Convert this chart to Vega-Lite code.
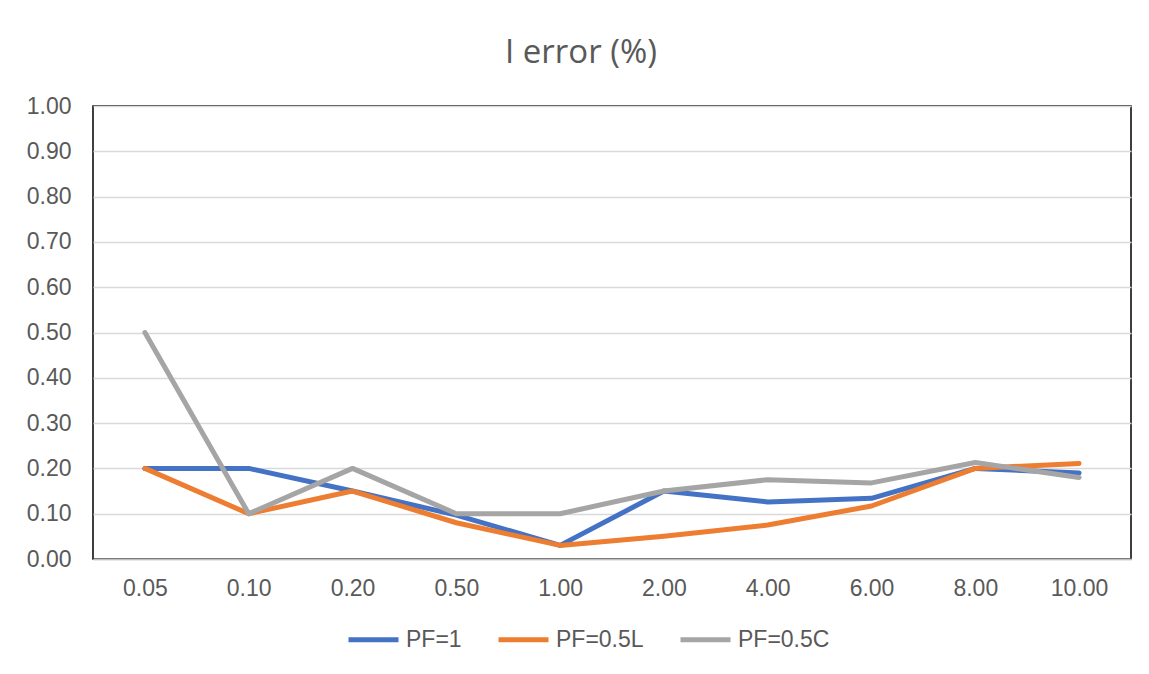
{
  "$schema": "https://vega.github.io/schema/vega-lite/v6.json",
  "width": 1038,
  "height": 453,
  "autosize": {"type": "none"},
  "padding": {"left": 93, "top": 106, "right": 18, "bottom": 115},
  "background": "white",
  "title": {
    "text": "I error (%)",
    "font": "Open Sans",
    "fontSize": 33,
    "fontWeight": "normal",
    "color": "#595959",
    "anchor": "middle",
    "frame": "group",
    "dx": -31,
    "offset": 25
  },
  "config": {
    "view": {"stroke": "#000000", "strokeWidth": 1.5},
    "axis": {
      "labelFont": "Liberation Sans",
      "labelFontSize": 23,
      "labelColor": "#595959",
      "ticks": false,
      "title": null
    },
    "legend": {
      "labelFont": "Liberation Sans",
      "labelFontSize": 23,
      "labelColor": "#595959"
    }
  },
  "data": {
    "values": [
      {"x": "0.05", "series": "PF=1", "v": 0.20},
      {"x": "0.10", "series": "PF=1", "v": 0.20},
      {"x": "0.20", "series": "PF=1", "v": 0.15},
      {"x": "0.50", "series": "PF=1", "v": 0.097},
      {"x": "1.00", "series": "PF=1", "v": 0.03},
      {"x": "2.00", "series": "PF=1", "v": 0.15},
      {"x": "4.00", "series": "PF=1", "v": 0.126},
      {"x": "6.00", "series": "PF=1", "v": 0.134},
      {"x": "8.00", "series": "PF=1", "v": 0.20},
      {"x": "10.00", "series": "PF=1", "v": 0.19},
      {"x": "0.05", "series": "PF=0.5L", "v": 0.20},
      {"x": "0.10", "series": "PF=0.5L", "v": 0.10},
      {"x": "0.20", "series": "PF=0.5L", "v": 0.15},
      {"x": "0.50", "series": "PF=0.5L", "v": 0.08},
      {"x": "1.00", "series": "PF=0.5L", "v": 0.03},
      {"x": "2.00", "series": "PF=0.5L", "v": 0.05},
      {"x": "4.00", "series": "PF=0.5L", "v": 0.075},
      {"x": "6.00", "series": "PF=0.5L", "v": 0.117},
      {"x": "8.00", "series": "PF=0.5L", "v": 0.20},
      {"x": "10.00", "series": "PF=0.5L", "v": 0.211},
      {"x": "0.05", "series": "PF=0.5C", "v": 0.50},
      {"x": "0.10", "series": "PF=0.5C", "v": 0.10},
      {"x": "0.20", "series": "PF=0.5C", "v": 0.20},
      {"x": "0.50", "series": "PF=0.5C", "v": 0.10},
      {"x": "1.00", "series": "PF=0.5C", "v": 0.10},
      {"x": "2.00", "series": "PF=0.5C", "v": 0.15},
      {"x": "4.00", "series": "PF=0.5C", "v": 0.175},
      {"x": "6.00", "series": "PF=0.5C", "v": 0.168},
      {"x": "8.00", "series": "PF=0.5C", "v": 0.213},
      {"x": "10.00", "series": "PF=0.5C", "v": 0.18}
    ]
  },
  "mark": {"type": "line", "strokeWidth": 5, "strokeCap": "round", "strokeJoin": "round"},
  "encoding": {
    "x": {
      "field": "x",
      "type": "ordinal",
      "sort": ["0.05", "0.10", "0.20", "0.50", "1.00", "2.00", "4.00", "6.00", "8.00", "10.00"],
      "scale": {"type": "point", "padding": 0.5},
      "axis": {
        "labelAngle": 0,
        "labelPadding": 18,
        "domainColor": "#bfbfbf",
        "domainWidth": 1.5,
        "grid": false
      }
    },
    "y": {
      "field": "v",
      "type": "quantitative",
      "scale": {"domain": [0, 1], "nice": false},
      "axis": {
        "values": [0, 0.1, 0.2, 0.3, 0.4, 0.5, 0.6, 0.7, 0.8, 0.9, 1.0],
        "format": ".2f",
        "domain": false,
        "grid": true,
        "gridColor": "#d9d9d9",
        "gridWidth": 1.5,
        "labelPadding": 22
      }
    },
    "color": {
      "field": "series",
      "type": "nominal",
      "sort": ["PF=1", "PF=0.5L", "PF=0.5C"],
      "scale": {
        "domain": ["PF=1", "PF=0.5L", "PF=0.5C"],
        "range": ["#4472C4", "#ED7D31", "#A5A5A5"]
      },
      "legend": {
        "title": null,
        "orient": "none",
        "direction": "horizontal",
        "legendX": 253,
        "legendY": 506,
        "symbolType": "stroke",
        "symbolSize": 2500,
        "symbolStrokeWidth": 5,
        "labelOffset": 5,
        "columnPadding": 26
      }
    },
    "order": {"field": "series"}
  }
}
